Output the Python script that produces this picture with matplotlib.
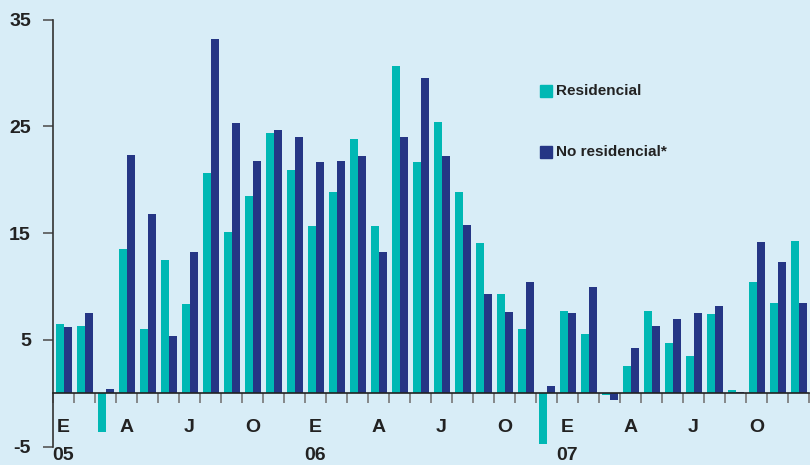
import matplotlib
matplotlib.use("Agg")
import matplotlib.pyplot as plt
from matplotlib.patches import Rectangle
import numpy as np

# monthly rates, Jan 2005 - Dec 2007
residencial = [6.5, 6.3, -3.6, 13.5, 6.0, 12.5, 8.4, 20.6, 15.1, 18.5, 24.4, 20.9,
               15.7, 18.9, 23.8, 15.7, 30.7, 21.7, 25.4, 18.9, 14.1, 9.3, 6.0, -4.75,
               7.7, 5.6, -0.15, 2.6, 7.7, 4.7, 3.5, 7.4, 0.3, 10.4, 8.5, 14.3]
no_residencial = [6.2, 7.5, 0.4, 22.3, 16.8, 5.35, 13.2, 33.2, 25.3, 21.8, 24.7, 24.0,
                  21.7, 21.8, 22.2, 13.2, 24.0, 29.5, 22.2, 15.8, 9.3, 7.6, 10.4, 0.66,
                  7.5, 10.0, -0.6, 4.2, 6.3, 7.0, 7.5, 8.2, 0.1, 14.2, 12.3, 8.5]
month_labels = ["E", "A", "J", "O"]
year_labels = ["05", "06", "07"]

bg = "#d8edf7"
teal = "#00b8b4"
navy = "#253685"

plt.rcParams["font.family"] = ["Liberation Sans", "DejaVu Sans"]

fig = plt.figure(figsize=(8.1, 4.65), dpi=100, facecolor=bg)
ax = fig.add_axes([53 / 810, 0.0394, 756 / 810, 0.9182])
ax.set_facecolor(bg)

n = len(residencial)
x = np.arange(n) + 0.51
w = 0.39
ax.bar(x - w / 2, residencial, w, color=teal, label="Residencial", zorder=2)
ax.bar(x + w / 2, no_residencial, w, color=navy, label="No residencial*", zorder=2)

ax.set_xlim(0, n)
ax.set_ylim(-5, 35)
ax.set_yticks([-5, 5, 15, 25, 35])
ax.set_yticklabels(["-5", "5", "15", "25", "35"], fontsize=14, fontweight="bold",
                   color="#222222")
ax.tick_params(axis="y", direction="out", length=7, width=1.2, color="#555555", pad=9)

ax.spines["top"].set_visible(False)
ax.spines["right"].set_visible(False)
ax.spines["left"].set_color("#333333")
ax.spines["left"].set_linewidth(1.2)
ax.spines["bottom"].set_position(("data", 0))
ax.spines["bottom"].set_color("#222222")
ax.spines["bottom"].set_linewidth(1.2)
ax.spines["bottom"].set_zorder(3)

# month boundary ticks, labels placed at quarter starts
ax.set_xticks(np.arange(0, n + 1))
ax.set_xticklabels([])
ax.tick_params(axis="x", direction="out", length=7, width=1.2, color="#777777")

for i in range(0, n, 3):
    ax.text(i + 0.5, -3.2, month_labels[(i // 3) % 4], ha="center", va="center",
            fontsize=14, fontweight="bold", color="#222222", clip_on=False)
for k, yr in enumerate(year_labels):
    ax.text(12 * k + 0.5, -5.85, yr, ha="center", va="center",
            fontsize=14, fontweight="bold", color="#222222", clip_on=False)

# legend boxes drawn in figure pixels
for ypix, col, txt in [(91, teal, "Residencial"), (152, navy, "No residencial*")]:
    fig.patches.append(Rectangle((540 / 810, (465 - ypix - 6) / 465), 12 / 810, 12 / 465,
                                 transform=fig.transFigure, color=col))
    fig.text(556 / 810, (465 - ypix) / 465, txt, ha="left", va="center",
             fontsize=11, fontweight="bold", color="#222222")

fig.savefig("out.png", dpi=100, facecolor=bg)
